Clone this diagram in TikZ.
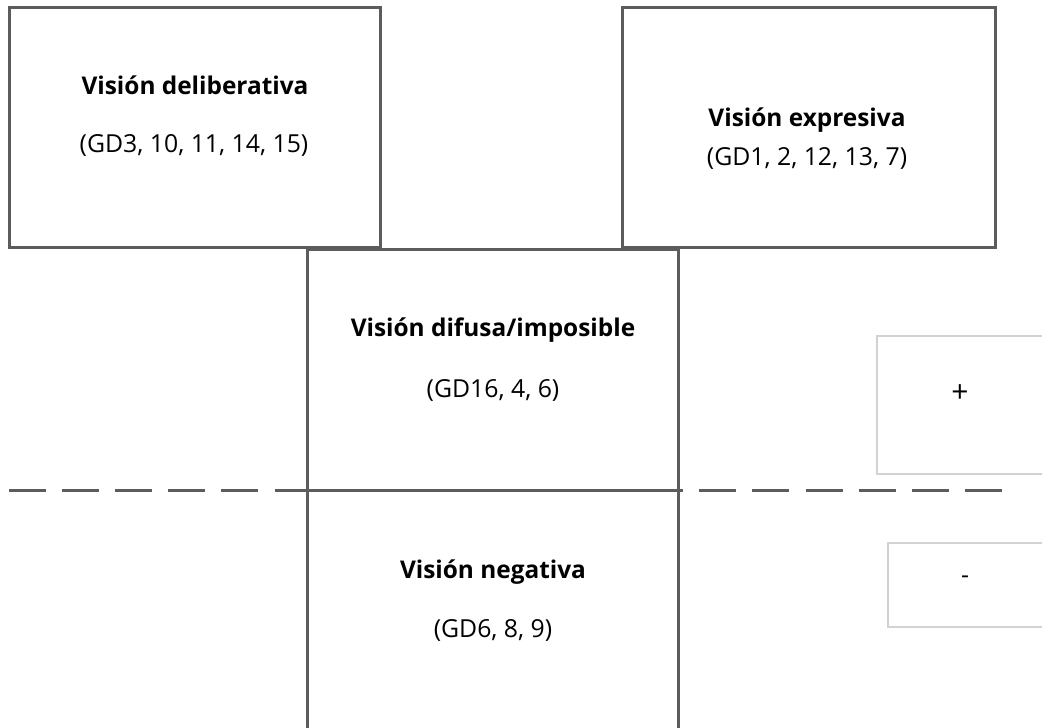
\documentclass[tikz,border=0pt]{standalone}
\usepackage{fontspec}
\setmainfont{Open Sans}
\usetikzlibrary{fit,positioning}
\definecolor{framegray}{HTML}{5C5C5C}
\definecolor{lightframe}{HTML}{D2D2D2}

\begin{document}
\begin{tikzpicture}[x=0.5pt,y=-0.5pt]
        %
        % `vision' is used for the four big boxes, `sign' for the small ones.
        \tikzstyle{vision} = [draw=framegray,line width=1.5pt,inner sep=0pt]
        \tikzstyle{sign} = [draw=lightframe,line width=0.6pt,inner sep=0pt]
        \tikzstyle{title} = [font=\fontsize{12.2}{14}\selectfont\bfseries]
        \tikzstyle{groups} = [font=\fontsize{12.4}{14}\selectfont]
        %
        \useasboundingbox (0,0) rectangle (1042,727);
        %
        % Dashed line
        \coordinate (dashL) at (9,490);
        \coordinate (dashR) at (1004,490);
        \draw[framegray,line width=1.5pt,dash pattern=on 18.5pt off 8.05pt] (dashL) -- (dashR);
        %
        % Top row
        \node[vision,fit={(9,8) (380,247)}] (delib) {};
        \node[vision,fit={(622,8) (995,247)}] (expr) {};
        %
        % Middle column
        \node[vision,fit={(307,249) (678,490)}] (difusa) {};
        \node[vision,fit={(307,490) (678,729)}] (negat) {};
        %
        % Sign boxes
        \node[sign,fit={(877,336) (1045,474)}] (plusbox) {};
        \node[sign,fit={(888,543) (1045,627)}] (minusbox) {};
        %
        % Texts
        \node[title] (delibT) at (195,85) {Visión deliberativa};
        \node[groups] (delibG) at (194,145) {(GD3, 10, 11, 14, 15)};
        \node[title] (exprT) at (807,120) {Visión expresiva};
        \node[groups] (exprG) at (807,158) {(GD1, 2, 12, 13, 7)};
        \node[title] (difusaT) at (493,330) {Visión difusa/imposible};
        \node[groups] (difusaG) at (493,390) {(GD16, 4, 6)};
        \node[title] (negatT) at (493,572) {Visión negativa};
        \node[groups] (negatG) at (493,630) {(GD6, 8, 9)};
        \node[groups,font=\fontsize{15}{16}\selectfont] (plus) at (960,394) {+};
        \node[groups] (minus) at (965,580) {-};
        %
\end{tikzpicture}
\end{document}
